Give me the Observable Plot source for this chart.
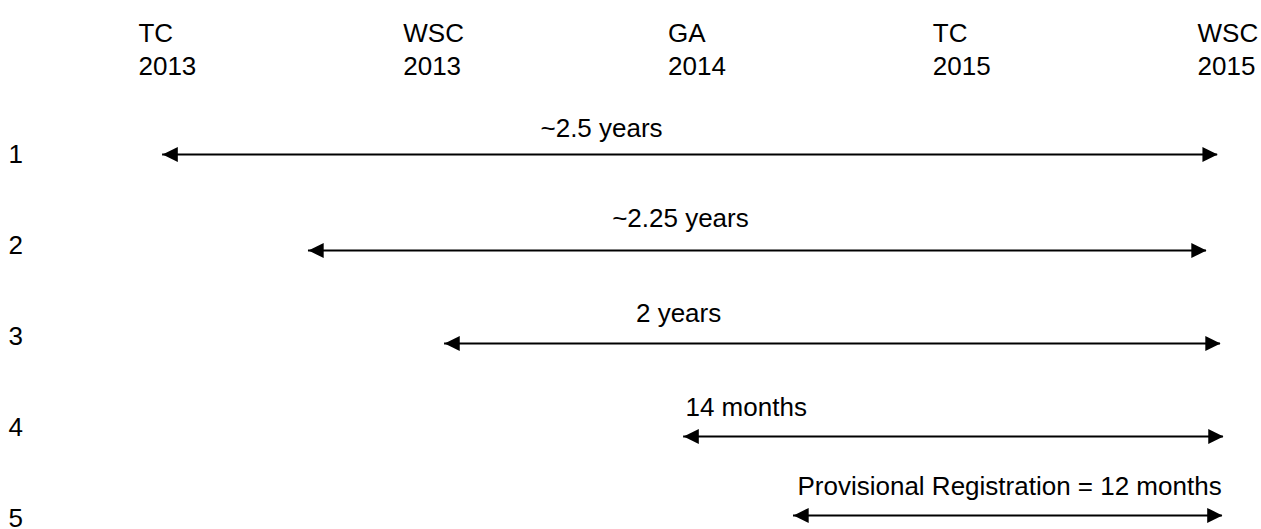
<!DOCTYPE html>
<html>
<head>
<meta charset="utf-8">
<script src="https://cdn.jsdelivr.net/npm/d3@7"></script>
<script src="https://cdn.jsdelivr.net/npm/@observablehq/plot@0.6"></script>
<style>
  html, body { margin: 0; padding: 0; background: #fff; }
  #chart svg { display: block; }
</style>
</head>
<body>
<div id="chart"></div>
<script>
// Timeline events (column headers), positioned at column index
const events = ["TC\n2013", "WSC\n2013", "GA\n2014", "TC\n2015", "WSC\n2015"];
const eventPos = [0, 1, 2, 3, 4];

// Option rows
const rows = [1, 2, 3, 4, 5];
const arrowLevel = [0.901, 1.956, 2.978, 4.0, 4.868];
const arrowStart = [0.091, 0.642, 1.156, 2.059, 2.474];
const arrowEnd = [4.076, 4.034, 4.087, 4.098, 4.094];
const durations = ["~2.5 years", "~2.25 years", "2 years", "14 months", "Provisional Registration = 12 months"];
const labelX = [1.749, 2.047, 2.040, 2.066, 2.489];
const labelLevel = [0.714, 1.703, 2.747, 3.780, 4.648];
const labelAlign = ["middle", "middle", "middle", "start", "start"];

const headerData = events.map((e, i) => ({name: e, x: eventPos[i]}));
const rowData = rows.map(r => ({row: r, label: String(r)}));
const arrows = rows.map((r, i) => ({
  row: r, level: arrowLevel[i], x1: arrowStart[i], x2: arrowEnd[i],
  label: durations[i], lx: labelX[i], ly: labelLevel[i], align: labelAlign[i]
}));

// Filled triangular arrow heads with the tip at the anchor point
const headRight = {draw(ctx, size) {
  const s = Math.sqrt(size / Math.PI);
  ctx.moveTo(0, 0); ctx.lineTo(-1.9 * s, -0.95 * s); ctx.lineTo(-1.9 * s, 0.95 * s); ctx.closePath();
}};
const headLeft = {draw(ctx, size) {
  const s = Math.sqrt(size / Math.PI);
  ctx.moveTo(0, 0); ctx.lineTo(1.9 * s, -0.95 * s); ctx.lineTo(1.9 * s, 0.95 * s); ctx.closePath();
}};

const font = "'Liberation Sans', Arial, Helvetica, sans-serif";

const chart = Plot.plot({
  width: 1261,
  height: 529,
  margin: 0,
  style: {fontFamily: font, fontSize: "26px", background: "#fff", color: "#000"},
  x: {domain: [-0.5212, 4.2417], range: [0, 1261], axis: null},
  y: {domain: [-0.791, 5.022], range: [0, 529], axis: null},
  marks: [
    Plot.text(headerData, {
      x: "x", text: "name", frameAnchor: "top", lineAnchor: "top", textAnchor: "start",
      dy: 18, lineHeight: 1.27, fontSize: 26, fill: "#000"
    }),
    Plot.text(rowData, {
      y: "row", text: "label", frameAnchor: "left", textAnchor: "start", lineAnchor: "bottom",
      dx: 8, fontSize: 26, fill: "#000"
    }),
    Plot.ruleY(arrows, {y: "level", x1: "x1", x2: "x2", stroke: "#000", strokeWidth: 2}),
    Plot.dot(arrows, {x: "x1", y: "level", symbol: headLeft, r: 8, fill: "#000", stroke: "none"}),
    Plot.dot(arrows, {x: "x2", y: "level", symbol: headRight, r: 8, fill: "#000", stroke: "none"}),
    Plot.text(arrows.filter(d => d.align === "middle"), {
      x: "lx", y: "ly", text: "label", textAnchor: "middle", lineAnchor: "bottom", fontSize: 26, fill: "#000"
    }),
    Plot.text(arrows.filter(d => d.align === "start"), {
      x: "lx", y: "ly", text: "label", textAnchor: "start", lineAnchor: "bottom", fontSize: 26, fill: "#000"
    })
  ]
});

document.getElementById("chart").appendChild(chart);
</script>
</body>
</html>
